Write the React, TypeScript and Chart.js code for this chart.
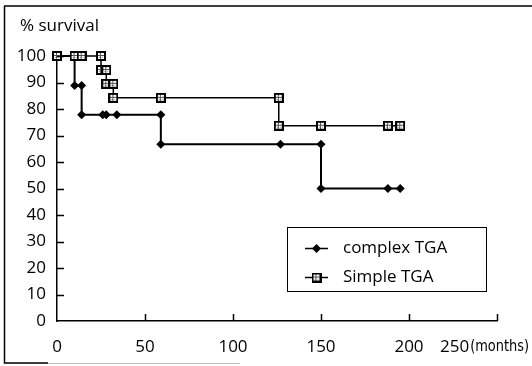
import React, { useEffect, useRef } from 'react';
import { Chart, registerables } from 'chart.js';

Chart.register(...registerables);

// ---- data ----
const complexMonths = [0, 10, 10, 14, 14, 26, 28, 34, 59, 59, 127, 150, 150, 188, 195];
const complexSurvival = [100, 100, 88.9, 88.9, 77.8, 77.8, 77.8, 77.8, 77.8, 66.7, 66.7, 66.7, 50, 50, 50];
const simpleMonths = [0, 10, 14, 25, 25, 28, 28, 32, 32, 59, 126, 126, 150, 188, 195];
const simpleSurvival = [100, 100, 100, 100, 94.7, 94.7, 89.5, 89.5, 84.2, 84.2, 84.2, 73.7, 73.7, 73.7, 73.7];
const seriesNames = ['complex TGA', 'Simple TGA'];
const xTickValues = [0, 50, 100, 150, 200, 250];
const yTickValues = [0, 10, 20, 30, 40, 50, 60, 70, 80, 90, 100];
const yTitle = '% survival';
const xUnit = '(months)';

const FONT = "'Open Sans', 'DejaVu Sans', sans-serif";

function makeSquare(): HTMLCanvasElement {
  const c = document.createElement('canvas');
  c.width = 10;
  c.height = 10;
  const g = c.getContext('2d')!;
  g.fillStyle = '#000';
  g.fillRect(0, 0, 10, 10);
  g.fillStyle = '#fff';
  g.fillRect(2, 2, 6, 6);
  g.fillStyle = '#555';
  g.fillRect(4, 2, 1, 6);
  g.fillRect(2, 4, 6, 1);
  g.fillStyle = '#999';
  g.fillRect(6, 6, 1, 1);
  g.fillRect(3, 6, 1, 1);
  return c;
}

export default function App() {
  const ref = useRef<HTMLCanvasElement>(null);

  useEffect(() => {
    document.body.style.margin = '0';
    const sq = makeSquare();

    const overlay = {
      id: 'overlay',
      beforeDraw(chart: any) {
        const ctx = chart.ctx;
        ctx.save();
        ctx.fillStyle = '#fff';
        ctx.fillRect(0, 0, chart.width, chart.height);
        // frame
        ctx.strokeStyle = '#000';
        ctx.lineWidth = 1.5;
        ctx.beginPath();
        ctx.moveTo(4, 6);
        ctx.lineTo(532, 6);
        ctx.moveTo(4.5, 6);
        ctx.lineTo(4.5, 363);
        ctx.lineTo(48, 363);
        ctx.stroke();
        ctx.strokeStyle = '#bbb';
        ctx.lineWidth = 1;
        ctx.beginPath();
        ctx.moveTo(48, 363.5);
        ctx.lineTo(240, 363.5);
        ctx.stroke();
        ctx.restore();
      },
      afterDraw(chart: any) {
        const ctx = chart.ctx;
        const xs = chart.scales.x;
        const ys = chart.scales.y;
        const ca = chart.chartArea;
        ctx.save();
        ctx.strokeStyle = '#000';
        ctx.lineWidth = 1.5;
        ctx.beginPath();
        yTickValues.forEach((v) => {
          if (v === 0) return;
          const py = Math.round(ys.getPixelForValue(v)) + 0.5;
          ctx.moveTo(ca.left, py);
          ctx.lineTo(ca.left + 7, py);
        });
        xTickValues.forEach((v) => {
          if (v === 0) return;
          const px = Math.round(xs.getPixelForValue(v)) + 0.5;
          ctx.moveTo(px, ca.bottom);
          ctx.lineTo(px, ca.bottom - 7);
        });
        ctx.stroke();

        // "250(months)" label
        const last = xTickValues[xTickValues.length - 1];
        const lx = xs.getPixelForValue(last) - 57;
        ctx.fillStyle = '#000';
        ctx.textBaseline = 'middle';
        ctx.textAlign = 'left';
        ctx.font = `17px ${FONT}`;
        const s = String(last);
        ctx.fillText(s, lx, 347);
        const w = ctx.measureText(s).width;
        ctx.font = "16px 'Liberation Sans Narrow', 'DejaVu Sans Condensed', sans-serif";
        const uStart = lx + w + 1;
        const uw = ctx.measureText(xUnit).width;
        const target = 529 - uStart;
        ctx.save();
        ctx.translate(uStart, 347);
        ctx.scale(Math.min(1, target / uw), 1);
        ctx.fillText(xUnit, 0, 0);
        ctx.restore();

        // y title
        ctx.font = `17px ${FONT}`;
        ctx.textBaseline = 'alphabetic';
        ctx.fillText(yTitle, 20, 31);

        // legend
        ctx.lineWidth = 1;
        ctx.strokeRect(287.5, 227.5, 199, 64);
        const rows = [248, 277];
        rows.forEach((ry, i) => {
          ctx.lineWidth = 1.5;
          ctx.beginPath();
          ctx.moveTo(305, ry + 0.5);
          ctx.lineTo(328, ry + 0.5);
          ctx.stroke();
          if (i === 0) {
            ctx.beginPath();
            ctx.moveTo(316.5, ry - 4);
            ctx.lineTo(321, ry + 0.5);
            ctx.lineTo(316.5, ry + 5);
            ctx.lineTo(312, ry + 0.5);
            ctx.closePath();
            ctx.fill();
          } else {
            ctx.drawImage(sq, 311.5, ry - 4.5);
          }
          ctx.font = `17px ${FONT}`;
          ctx.textBaseline = 'middle';
          ctx.fillText(seriesNames[i], 343, ry);
        });
        ctx.restore();
      },
    };

    const tickFont = { family: FONT, size: 17 };

    const chart = new Chart(ref.current!, {
      type: 'scatter',
      data: {
        datasets: [
          {
            label: seriesNames[0],
            data: complexMonths.map((x, i) => ({ x, y: complexSurvival[i] })),
            showLine: true,
            clip: false,
            borderColor: '#000',
            borderWidth: 2,
            pointStyle: 'rectRot',
            pointRadius: 4.5,
            pointBackgroundColor: '#000',
            pointBorderColor: '#000',
            pointBorderWidth: 0,
            order: 2,
          },
          {
            label: seriesNames[1],
            data: simpleMonths.map((x, i) => ({ x, y: simpleSurvival[i] })),
            showLine: true,
            clip: false,
            borderColor: '#000',
            borderWidth: 1.5,
            pointStyle: sq as any,
            pointRadius: 5,
            order: 1,
          },
        ],
      },
      options: {
        responsive: false,
        animation: false,
        events: [],
        layout: { padding: { top: 56, right: 35, left: 0, bottom: 0 } },
        plugins: { legend: { display: false }, tooltip: { enabled: false } },
        scales: {
          x: {
            type: 'linear',
            min: 0,
            max: 250,
            afterBuildTicks: (s: any) => {
              s.ticks = xTickValues.map((v) => ({ value: v }));
            },
            afterFit: (s: any) => {
              s.height = 45;
            },
            ticks: {
              callback: (v: any) => (v === 250 ? '' : String(v)),
              font: tickFont,
              color: '#000',
              padding: 16,
              maxRotation: 0,
              autoSkip: false,
            },
            grid: { display: false, drawTicks: false },
            border: { display: true, color: '#000', width: 1.5 },
          },
          y: {
            type: 'linear',
            min: 0,
            max: 100,
            afterBuildTicks: (s: any) => {
              s.ticks = yTickValues.map((v) => ({ value: v }));
            },
            afterFit: (s: any) => {
              s.width = 57;
            },
            ticks: {
              font: tickFont,
              color: '#000',
              padding: 11,
              autoSkip: false,
            },
            grid: { display: false, drawTicks: false },
            border: { display: true, color: '#000', width: 1.5 },
          },
        },
      },
      plugins: [overlay],
    });
    return () => chart.destroy();
  }, []);

  return <canvas ref={ref} width={532} height={366} style={{ display: 'block' }} />;
}
